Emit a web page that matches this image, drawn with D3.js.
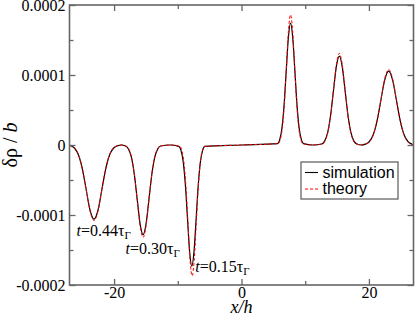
<!DOCTYPE html>
<html><head><meta charset="utf-8">
<script src="https://cdn.jsdelivr.net/npm/d3@7/dist/d3.min.js"></script>
<style>body{margin:0;background:#fff}svg{display:block}</style>
</head><body>
<svg id="c" width="415" height="318"></svg>
<script>
// Values in units of 1e-4 (delta rho / b)
const UNIT = 1e-4;
const simX = [-27,
 -26.81,-26.2,-25.59,-24.98,-24.37,-23.76,-23.15,-22.54,-21.93,-21.32,-20.71,-20.1,-19.49,
 -18.85,
 -18.21,-17.75,-17.29,-16.83,-16.37,-15.91,-15.45,-14.99,-14.53,-14.07,-13.61,-13.15,-12.69,
 -11.2,
 -9.84,-9.5,-9.16,-8.82,-8.48,-8.14,-7.8,-7.46,-7.12,-6.78,-6.44,-6.1,-5.76,
 0,
 5.66,6.0,6.34,6.68,7.02,7.36,7.7,8.04,8.38,8.72,9.06,9.4,9.74,
 11.2,
 12.59,13.05,13.51,13.97,14.43,14.89,15.35,15.81,16.27,16.73,17.19,17.65,18.11,
 18.8,
 19.44,20.05,20.66,21.27,21.88,22.49,23.1,23.71,24.32,24.93,25.54,26.15,26.76,
 27];
const simY = [0,
 -0.0118,-0.0465,-0.1434,-0.3442,-0.6429,-0.9355,-1.06,-0.9355,-0.6429,-0.3442,-0.1434,-0.0465,-0.0118,
 0,
 -0.0142,-0.0562,-0.1732,-0.4156,-0.7763,-1.1296,-1.28,-1.1296,-0.7763,-0.4156,-0.1732,-0.0562,-0.0142,
 0,
 -0.0192,-0.0759,-0.2341,-0.5617,-1.0492,-1.5267,-1.73,-1.5267,-1.0492,-0.5617,-0.2341,-0.0759,-0.0192,
 0,
 0.0193,0.0764,0.2354,0.565,1.0553,1.5356,1.74,1.5356,1.0553,0.565,0.2354,0.0764,0.0193,
 0,
 0.0141,0.0558,0.1718,0.4124,0.7703,1.1208,1.27,1.1208,0.7703,0.4124,0.1718,0.0558,0.0141,
 0,
 0.0117,0.0463,0.1427,0.3426,0.6399,0.931,1.055,0.931,0.6399,0.3426,0.1427,0.0463,0.0117,
 0];
const theoX = [-27,
 -26.75,-26.15,-25.55,-24.95,-24.35,-23.75,-23.15,-22.55,-21.95,-21.35,-20.75,-20.15,-19.55,
 -18.85,
 -18.15,-17.7,-17.25,-16.8,-16.35,-15.9,-15.45,-15.0,-14.55,-14.1,-13.65,-13.2,-12.75,
 -11.2,
 -9.67,-9.35,-9.03,-8.71,-8.39,-8.07,-7.75,-7.43,-7.11,-6.79,-6.47,-6.15,-5.83,
 0,
 5.78,6.1,6.42,6.74,7.06,7.38,7.7,8.02,8.34,8.66,8.98,9.3,9.62,
 11.2,
 12.65,13.1,13.55,14.0,14.45,14.9,15.35,15.8,16.25,16.7,17.15,17.6,18.05,
 18.8,
 19.5,20.1,20.7,21.3,21.9,22.5,23.1,23.7,24.3,24.9,25.5,26.1,26.7,
 27];
const theoY = [0,
 -0.012,-0.0474,-0.1461,-0.3507,-0.655,-0.9531,-1.08,-0.9531,-0.655,-0.3507,-0.1461,-0.0474,-0.012,
 0,
 -0.0147,-0.0579,-0.1786,-0.4286,-0.8006,-1.1649,-1.32,-1.1649,-0.8006,-0.4286,-0.1786,-0.0579,-0.0147,
 0,
 -0.0208,-0.0821,-0.253,-0.6072,-1.1342,-1.6503,-1.87,-1.6503,-1.1342,-0.6072,-0.253,-0.0821,-0.0208,
 0,
 0.0206,0.0817,0.2517,0.6039,1.1281,1.6415,1.86,1.6415,1.1281,0.6039,0.2517,0.0817,0.0206,
 0,
 0.0145,0.0575,0.1772,0.4254,0.7945,1.1561,1.31,1.1561,0.7945,0.4254,0.1772,0.0575,0.0145,
 0,
 0.012,0.0474,0.1461,0.3507,0.655,0.9531,1.08,0.9531,0.655,0.3507,0.1461,0.0474,0.012,
 0];

const xMajor = [-20, 0, 20];
const xMinor = [-10, 10];
const xLabels = ["-20", "0", "20"];
const yMajor = [-2, -1, 0, 1, 2];
const yMinor = [-1.5, -0.5, 0.5, 1.5];
const yLabels = ["-0.0002", "-0.0001", "0", "0.0001", "0.0002"];
const seriesNames = ["simulation", "theory"];
const annX = [-23.15, -15.45, -7.8];
const annY = [-1.06, -1.28, -1.73];
const annT = ["0.44", "0.30", "0.15"];

const L = 69.5, R = 413.5, T = 5, B = 285;
const svg = d3.select("#c");
const x = d3.scaleLinear().domain([-27, 27]).range([L, R]);
const y = d3.scaleLinear().domain([-2, 2]).range([B, T]);

const serif = "'Liberation Serif','Times New Roman',serif";
const sans = "'Liberation Sans',Arial,sans-serif";

svg.append("clipPath").attr("id","cp").append("rect")
  .attr("x", L).attr("y", T).attr("width", R-L).attr("height", B-T);

const line = d3.line().x(d => x(d[0])).y(d => y(d[1])).curve(d3.curveMonotoneX);
const simPts = simX.map((v,i) => [v, simY[i]]);
const theoPts = theoX.map((v,i) => [v, theoY[i]]);

const g = svg.append("g").attr("clip-path","url(#cp)");
g.append("path").attr("d", line(simPts)).attr("fill","none").attr("stroke","#000").attr("stroke-width",1.2);
g.append("path").attr("d", line(theoPts)).attr("fill","none").attr("stroke","#ff0000").attr("stroke-width",1).attr("stroke-dasharray","3,2");

function styleAxis(sel){
  sel.attr("font-family", serif).attr("font-size", 16);
  sel.select(".domain").remove();
  sel.selectAll(".tick line").attr("stroke","#666").attr("stroke-width",1.3);
  sel.selectAll(".tick text").attr("font-family", serif).attr("font-size", 16).attr("fill","#000");
}
svg.append("g").attr("transform",`translate(0,${B})`)
  .call(d3.axisBottom(x).tickValues(xMajor).tickSize(-6).tickPadding(2).tickFormat((d,i)=>xLabels[i])).call(styleAxis);
svg.append("g").attr("transform",`translate(0,${B})`)
  .call(d3.axisBottom(x).tickValues(xMinor).tickSize(-4).tickFormat("")).call(styleAxis);
svg.append("g").attr("transform",`translate(0,${T})`)
  .call(d3.axisTop(x).tickValues(xMajor).tickSize(-6).tickFormat("")).call(styleAxis);
svg.append("g").attr("transform",`translate(0,${T})`)
  .call(d3.axisTop(x).tickValues(xMinor).tickSize(-4).tickFormat("")).call(styleAxis);
svg.append("g").attr("transform",`translate(${L},0)`)
  .call(d3.axisLeft(y).tickValues(yMajor).tickSize(-6).tickPadding(4).tickFormat((d,i)=>yLabels[i])).call(styleAxis);
svg.append("g").attr("transform",`translate(${L},0)`)
  .call(d3.axisLeft(y).tickValues(yMinor).tickSize(-4).tickFormat("")).call(styleAxis);
svg.append("g").attr("transform",`translate(${R},0)`)
  .call(d3.axisRight(y).tickValues(yMajor).tickSize(-6).tickFormat("")).call(styleAxis);
svg.append("g").attr("transform",`translate(${R},0)`)
  .call(d3.axisRight(y).tickValues(yMinor).tickSize(-4).tickFormat("")).call(styleAxis);

svg.append("rect").attr("x",L).attr("y",T).attr("width",R-L).attr("height",B-T)
  .attr("fill","none").attr("stroke","#666").attr("stroke-width",1.6);

// axis labels
svg.append("text").attr("x", x(0)).attr("y", 313).attr("text-anchor","middle")
  .attr("font-family", serif).attr("font-size", 18).attr("font-style","italic").text("x/h");
const yl = svg.append("text").attr("transform","translate(17,145) rotate(-90)").attr("text-anchor","middle")
  .attr("font-family", serif).attr("font-size", 20);
yl.append("tspan").text("δρ / ");
yl.append("tspan").attr("font-style","italic").text("b");

// annotations
const annDx = [-17.5, -17.5, 3.5];
const annDy = [17, 19, 6];
annT.forEach((t,i) => {
  const tx = svg.append("text").attr("x", x(annX[i]) + annDx[i]).attr("y", y(annY[i]) + annDy[i])
    .attr("font-family", serif).attr("font-size", 16);
  tx.append("tspan").attr("font-style","italic").text("t");
  tx.append("tspan").text("=" + t + "τ");
  tx.append("tspan").attr("font-size", 11).attr("dy", 3).text("Γ");
});

// legend
const lg = svg.append("g");
lg.append("rect").attr("x",301).attr("y",162).attr("width",97).attr("height",37)
  .attr("fill","#fff").attr("stroke","#666").attr("stroke-width",1.3);
const legStroke = ["#000", "#ff0000"], legDash = [null, "3,2"];
seriesNames.forEach((n,i) => {
  const yy = 172.5 + i*16.5;
  lg.append("line").attr("x1",305).attr("x2",318).attr("y1",yy).attr("y2",yy)
    .attr("stroke",legStroke[i]).attr("stroke-width",1.1).attr("stroke-dasharray",legDash[i]);
  lg.append("text").attr("x",322.5).attr("y",yy+5).attr("font-family",sans).attr("font-size",16).text(n);
});
</script>
</body></html>
